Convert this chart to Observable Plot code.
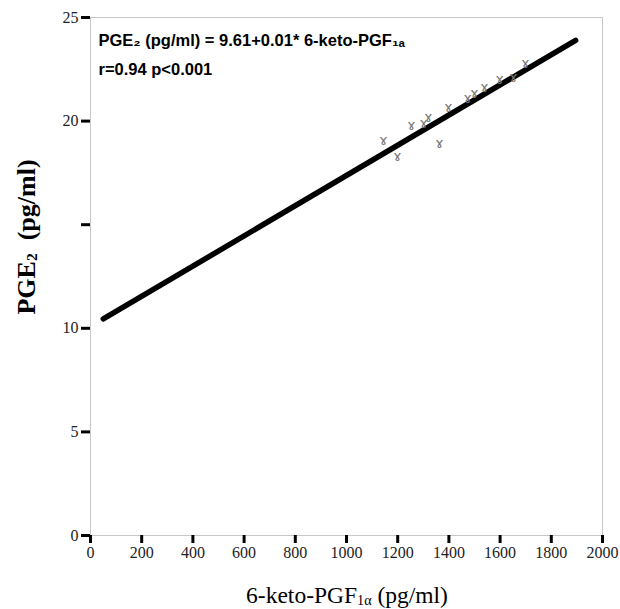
<!DOCTYPE html>
<html>
<head>
<meta charset="utf-8">
<script src="https://cdn.jsdelivr.net/npm/d3@7"></script>
<script src="https://cdn.jsdelivr.net/npm/@observablehq/plot@0.6"></script>
<style>
  body { margin: 0; background: #fff; }
  #chart { position: relative; width: 620px; height: 609px; }
  .ylab { position: absolute; left: 27px; top: 237px; transform: translate(-50%, -50%) rotate(-90deg); font: bold 26px "Liberation Serif", "Times New Roman", serif; white-space: pre; color: #000; line-height: 1; }
  .xlab { position: absolute; left: 347px; top: 584px; transform: translateX(-50%); font: 23.5px "Liberation Serif", "Times New Roman", serif; white-space: nowrap; color: #000; line-height: 1; }
  sub { font-size: 0.6em; vertical-align: -0.12em; }
</style>
</head>
<body>
<div id="chart"></div>
<script>
const ketoPGF = [1144, 1199, 1254, 1301, 1320, 1363, 1398, 1473, 1500, 1539, 1598, 1652, 1699];
const pge2 = [19.06, 18.29, 19.79, 19.88, 20.17, 18.92, 20.66, 21.09, 21.33, 21.62, 22.0, 22.1, 22.78];
const fitX = [50, 1895];
const fitY = [10.45, 23.9];
const xTicks = [0, 200, 400, 600, 800, 1000, 1200, 1400, 1600, 1800, 2000];
const yTicks = [0, 5, 10, 15, 20, 25];
const yTickLabels = ["0", "5", "10", "", "20", "25"];

const points = ketoPGF.map((x, i) => ({x, y: pge2[i]}));
const fit = fitX.map((x, i) => ({x, y: fitY[i]}));

const plot = Plot.plot({
  width: 620,
  height: 609,
  marginLeft: 90,
  marginRight: 18,
  marginTop: 17,
  marginBottom: 74,
  style: { fontFamily: "'Liberation Serif', 'Times New Roman', serif", fontSize: "16px", background: "#fff" },
  x: { domain: [0, 2000], label: null },
  y: { domain: [0, 25], label: null },
  marks: [
    Plot.frame({ stroke: "#c8c8c8", strokeWidth: 1 }),
    Plot.axisX({ ticks: xTicks, tickSize: 8, tickPadding: 3, strokeWidth: 3, stroke: "#000", fill: "#222", label: null, fontSize: 16, tickFormat: d3.format("d") }),
    Plot.axisY({ ticks: yTicks, tickSize: 9, tickPadding: 3, strokeWidth: 3, stroke: "#000", fill: "#222", label: null, fontSize: 16,
                 tickFormat: d => yTickLabels[yTicks.indexOf(d)] }),
    Plot.line(fit, { x: "x", y: "y", stroke: "#000", strokeWidth: 5.5 }),
    Plot.text(points, { x: "x", y: "y", text: () => "ɤ", fill: "#777", fontSize: 14, fontFamily: "DejaVu Sans" }),
    Plot.text(["PGE₂ (pg/ml) = 9.61+0.01* 6-keto-PGF₁ₐ"], { frameAnchor: "top-left", dx: 8, dy: 17, fontFamily: "'Liberation Sans', Arial, sans-serif", fontWeight: "bold", fontSize: 16.5, fill: "#000", textAnchor: "start" }),
    Plot.text(["r=0.94 p<0.001"], { frameAnchor: "top-left", dx: 8, dy: 46, fontFamily: "'Liberation Sans', Arial, sans-serif", fontWeight: "bold", fontSize: 16.5, fill: "#000", textAnchor: "start" })
  ]
});
const chart = document.getElementById("chart");
chart.appendChild(plot);
const yl = document.createElement("div");
yl.className = "ylab";
yl.innerHTML = "PGE<sub>2</sub>  (pg/ml)";
chart.appendChild(yl);
const xl = document.createElement("div");
xl.className = "xlab";
xl.innerHTML = "6-keto-PGF<sub>1α</sub> (pg/ml)";
chart.appendChild(xl);
</script>
</body>
</html>
